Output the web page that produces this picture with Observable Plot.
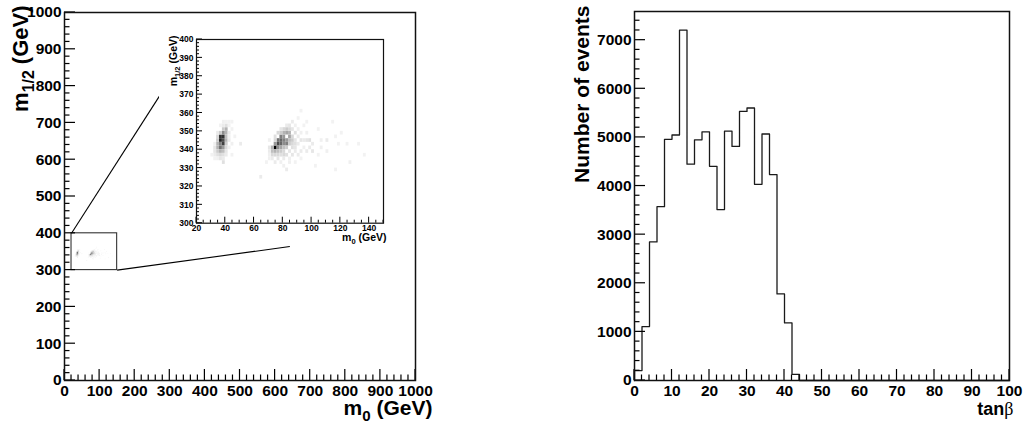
<!DOCTYPE html>
<html><head><meta charset="utf-8">
<script src="https://cdn.jsdelivr.net/npm/d3@7"></script>
<script src="https://cdn.jsdelivr.net/npm/@observablehq/plot@0.6"></script>
<style>
body{margin:0;background:#fff;}
#wrap{position:relative;width:1027px;height:428px;overflow:hidden;background:#fff;}
#wrap > div{position:absolute;}
</style></head><body>
<div id="wrap">
<div id="left" style="left:0;top:0"></div>
<div id="right" style="left:513px;top:0"></div>
<div id="inset" style="left:159px;top:30px"></div>
</div>
<script>
// ---------- data ----------
const m0Domain = [0, 1000];
const m12Domain = [0, 1000];
const m0Ticks = [0,100,200,300,400,500,600,700,800,900,1000];
const m0TickLabels = ["0","100","200","300","400","500","600","700","800","900","1000"];
const m12Ticks = [0,100,200,300,400,500,600,700,800,900,1000];
const m12TickLabels = ["0","100","200","300","400","500","600","700","800","900","1000"];

const insetM0Domain = [20, 150];
const insetM12Domain = [300, 400];
const insetM0Ticks = [20,40,60,80,100,120,140];
const insetM0TickLabels = ["20","40","60","80","100","120","140"];
const insetM12Ticks = [300,310,320,330,340,350,360,370,380,390,400];
const insetM12TickLabels = ["300","310","320","330","340","350","360","370","380","390","400"];

// zoom connector lines (main-plot coordinates)
const zoomLinkStart = [[20, 400], [150, 300]];
const zoomLinkEnd = [[270, 772], [642, 364]];

// 2D density cells: [m0 low edge, m1/2 low edge, relative density]
const cellSize = [2, 2];
const densityCells = [
 [36,346,0.8],[38,346,0.8],[36,344,0.85],[38,344,0.7],[38,342,0.75],[36,342,0.5],[36,340,0.55],[38,340,0.4],
 [38,348,0.45],[40,348,0.3],[40,350,0.3],[38,350,0.2],[34,342,0.3],[34,340,0.3],[34,338,0.2],[36,338,0.3],
 [38,338,0.25],[40,344,0.3],[40,346,0.25],[40,342,0.2],[40,340,0.15],[34,344,0.2],[34,346,0.15],[32,340,0.1],
 [32,338,0.1],[32,336,0.08],[34,336,0.12],[36,336,0.15],[38,336,0.12],[40,336,0.08],[36,334,0.1],[38,334,0.08],
 [34,334,0.06],[38,332,0.12],[40,338,0.1],[42,340,0.06],[42,344,0.08],[42,348,0.08],[42,352,0.05],[40,352,0.12],
 [38,352,0.08],[36,352,0.05],[38,354,0.06],[40,354,0.05],[44,350,0.05],[36,348,0.2],[34,348,0.08],[30,336,0.05],
 [44,342,0.06],[46,346,0.05],[50,342,0.08],[44,336,0.05],[32,342,0.06],[42,354,0.05],[44,354,0.05],[42,346,0.06],[32,334,0.05],
 [74,340,1.0],[76,342,0.7],[78,342,0.6],[76,344,0.55],[78,344,0.6],[78,346,0.5],[80,346,0.4],[80,344,0.5],
 [82,342,0.5],[80,342,0.45],[76,340,0.45],[78,340,0.35],[82,344,0.4],[84,346,0.35],[82,348,0.35],[80,348,0.3],
 [84,348,0.3],[72,340,0.3],[72,338,0.25],[74,338,0.3],[76,338,0.25],[74,342,0.4],[72,336,0.15],[74,336,0.15],
 [76,336,0.15],[78,338,0.2],[80,340,0.25],[84,344,0.25],[86,344,0.2],[82,350,0.2],[84,350,0.15],[86,350,0.1],
 [88,348,0.12],[86,346,0.15],[88,344,0.1],[84,342,0.2],[82,340,0.2],[86,340,0.12],[88,340,0.1],[90,342,0.08],
 [92,344,0.1],[94,344,0.08],[96,344,0.1],[98,340,0.08],[100,342,0.08],[98,344,0.12],[100,338,0.1],[96,338,0.08],
 [92,338,0.08],[90,336,0.08],[86,336,0.1],[82,336,0.12],[80,336,0.15],[78,336,0.12],[76,334,0.1],[72,334,0.08],
 [70,334,0.06],[68,332,0.05],[74,332,0.08],[78,332,0.06],[80,330,0.06],[84,332,0.06],[88,332,0.05],[82,328,0.08],
 [86,354,0.08],[84,352,0.1],[88,352,0.06],[90,356,0.05],[92,360,0.05],[96,354,0.05],[104,350,0.05],[106,340,0.06],
 [110,338,0.06],[114,354,0.05],[116,346,0.05],[118,342,0.05],[120,348,0.05],[124,342,0.05],[132,342,0.05],[136,336,0.05],
 [126,332,0.06],[116,328,0.05],[102,330,0.05],[64,324,0.08],[70,340,0.1],[70,344,0.06],[74,346,0.12],[76,348,0.15],
 [78,348,0.2],[80,350,0.15],[78,350,0.1],[82,352,0.08],[90,346,0.08],[92,348,0.06],[94,340,0.06],[104,336,0.05],
 [106,344,0.06],[110,344,0.08],[96,348,0.06],[86,342,0.15],[88,342,0.12],[80,338,0.15],[84,338,0.1],[88,338,0.08],
 [70,338,0.08],[70,336,0.06],[74,344,0.15],[90,350,0.06],[94,352,0.05],[80,334,0.08],[84,334,0.06],[92,334,0.05]
];

// tan(beta) histogram (bin width 2)
const tanbDomain = [0, 100];
const tanbBinLow = [0,2,4,6,8,10,12,14,16,18,20,22,24,26,28,30,32,34,36,38,40,42];
const tanbBinWidth = 2;
const tanbCounts = [205,1110,2850,3575,4960,5050,7205,4450,4950,5115,4405,3515,5130,4815,5535,5605,4035,5070,4235,1780,1185,125];
const eventsDomain = [0, 7590];
const tanbTicks = [0,10,20,30,40,50,60,70,80,90,100];
const tanbTickLabels = ["0","10","20","30","40","50","60","70","80","90","100"];
const eventsTicks = [0,1000,2000,3000,4000,5000,6000,7000];
const eventsTickLabels = ["0","1000","2000","3000","4000","5000","6000","7000"];

// ---------- helpers ----------
const FONT = '"Liberation Sans", Arial, Helvetica, sans-serif';
const fmt = (ticks, labels) => { const m = new Map(ticks.map((t, i) => [t, labels[i]])); return d => m.get(d) ?? ""; };
const minorOf = (ticks, n, domMax) => {
  const out = [];
  const step = (ticks[1] - ticks[0]) / n;
  for (let v = ticks[0] + step; v <= domMax + 1e-9; v += step) {
    if (!ticks.some(t => Math.abs(t - v) < 1e-6)) out.push(+v.toFixed(6));
  }
  return out;
};
const colorScale = {type: "linear", domain: [0, 1], range: ["#ffffff", "#000000"]};
const cells = densityCells.map(([m0, m12, v]) => ({m0, m12, v}));

// tick labels + inward ROOT-style ticks (thin filled rects, sized in pixels via the scale span)
function axesFor(g, xT, xL, yT, yL, xMinorN, yMinorN, opt) {
  const fw = g.width - g.marginLeft - g.marginRight;
  const fh = g.height - g.marginTop - g.marginBottom;
  const [x0, x1] = g.x, [y0, y1] = g.y;
  const dY = px => px * (y1 - y0) / fh;
  const dX = px => px * (x1 - x0) / fw;
  const hw = opt.sw / 2;
  const rows = [
    ...xT.map(v => ({a: v - dX(hw), b: v + dX(hw), c: y0, d: y0 + dY(opt.major)})),
    ...minorOf(xT, xMinorN, x1).map(v => ({a: v - dX(hw), b: v + dX(hw), c: y0, d: y0 + dY(opt.minor)})),
    ...yT.map(v => ({a: x0, b: x0 + dX(opt.major), c: v - dY(hw), d: v + dY(hw)})),
    ...minorOf(yT, yMinorN, y1).map(v => ({a: x0, b: x0 + dX(opt.minor), c: v - dY(hw), d: v + dY(hw)}))
  ];
  return [
    Plot.axisX({ticks: xT, tickSize: 0, tickPadding: opt.xPad, tickFormat: fmt(xT, xL), fontSize: opt.fs, fontWeight: "bold", fill: "black", label: null}),
    Plot.axisY({ticks: yT, tickSize: 0, tickPadding: opt.yPad, tickFormat: fmt(yT, yL), fontSize: opt.fs, fontWeight: "bold", fill: "black", label: null}),
    Plot.rect(rows, {x1: "a", x2: "b", y1: "c", y2: "d", fill: "black"})
  ];
}

function rich(svg, raw, parts, subShift) {
  svg.querySelectorAll("text").forEach(t => {
    if (t.textContent !== raw) return;
    while (t.firstChild) t.removeChild(t.firstChild);
    let shifted = 0;
    parts.forEach(p => {
      const ts = document.createElementNS("http://www.w3.org/2000/svg", "tspan");
      ts.textContent = p.t;
      let dy = 0;
      if (p.sub && !shifted) { dy = subShift; shifted = 1; }
      else if (!p.sub && shifted) { dy = -subShift; shifted = 0; }
      if (dy) ts.setAttribute("dy", dy);
      if (p.sub) ts.setAttribute("font-size", "72%");
      if (p.weight) ts.setAttribute("font-weight", p.weight);
      if (p.family) ts.setAttribute("font-family", p.family);
      t.appendChild(ts);
    });
  });
}
const svgStyle = {fontFamily: FONT, fontWeight: "bold", background: "white", color: "black"};
const dims = g => ({width: g.width, height: g.height, marginLeft: g.marginLeft, marginRight: g.marginRight, marginTop: g.marginTop, marginBottom: g.marginBottom});

// ---------- left: m1/2 vs m0 ----------
const insetBox = [{x1: insetM0Domain[0], x2: insetM0Domain[1], y1: insetM12Domain[0], y2: insetM12Domain[1]}];
const links = zoomLinkStart.map((s, i) => ({x1: s[0], y1: s[1], x2: zoomLinkEnd[i][0], y2: zoomLinkEnd[i][1]}));

const gL = {width: 513, height: 428, marginLeft: 64, marginRight: 98, marginTop: 12, marginBottom: 48, x: m0Domain, y: m12Domain};
const left = Plot.plot({
  ...dims(gL),
  x: {domain: m0Domain}, y: {domain: m12Domain},
  color: colorScale,
  style: svgStyle,
  marks: [
    Plot.rect(cells, {x1: "m0", x2: d => d.m0 + cellSize[0], y1: "m12", y2: d => d.m12 + cellSize[1], fill: "v"}),
    Plot.rect(insetBox, {x1: "x1", x2: "x2", y1: "y1", y2: "y2", fill: "none", stroke: "#333", strokeWidth: 1.1}),
    Plot.link(links, {x1: "x1", y1: "y1", x2: "x2", y2: "y2", stroke: "black", strokeWidth: 1.1}),
    ...axesFor(gL, m0Ticks, m0TickLabels, m12Ticks, m12TickLabels, 5, 5, {fs: 15.5, xPad: 4, yPad: 3, major: 11, minor: 5.5, sw: 1.2}),
    Plot.frame({stroke: "#111", strokeWidth: 1.5}),
    Plot.text(["m0 (GeV)"], {text: d => d, frameAnchor: "bottom-right", dx: 17, dy: 34, textAnchor: "end", lineAnchor: "bottom", fontSize: 21, fontWeight: "bold", fill: "black"}),
    Plot.text(["m1/2 (GeV)"], {text: d => d, frameAnchor: "top-left", dx: -37, dy: -7, rotate: -90, textAnchor: "end", lineAnchor: "bottom", fontSize: 22, fontWeight: "bold", fill: "black"})
  ]
});
rich(left, "m0 (GeV)", [{t: "m"}, {t: "0", sub: true}, {t: " (GeV)"}], 6);
rich(left, "m1/2 (GeV)", [{t: "m"}, {t: "1/2", sub: true}, {t: " (GeV)"}], 6);
document.getElementById("left").appendChild(left);

// ---------- inset ----------
const gI = {width: 241, height: 216, marginLeft: 37, marginRight: 17, marginTop: 9, marginBottom: 23.3, x: insetM0Domain, y: insetM12Domain};
const inset = Plot.plot({
  ...dims(gI),
  x: {domain: insetM0Domain}, y: {domain: insetM12Domain},
  color: colorScale,
  style: svgStyle,
  marks: [
    Plot.rect(cells, {x1: "m0", x2: d => d.m0 + cellSize[0], y1: "m12", y2: d => d.m12 + cellSize[1], fill: "v", clip: true}),
    ...axesFor(gI, insetM0Ticks, insetM0TickLabels, insetM12Ticks, insetM12TickLabels, 4, 5, {fs: 8.5, xPad: 2, yPad: 3, major: 6, minor: 3, sw: 1}),
    Plot.frame({stroke: "#111", strokeWidth: 1.2}),
    Plot.text(["m0 (GeV)"], {text: d => d, frameAnchor: "bottom-right", dx: 3, dy: 18, textAnchor: "end", lineAnchor: "bottom", fontSize: 10.5, fontWeight: "bold", fill: "black"}),
    Plot.text(["m1/2 (GeV)"], {text: d => d, frameAnchor: "top-left", dx: -20, dy: -4, rotate: -90, textAnchor: "end", lineAnchor: "bottom", fontSize: 10.5, fontWeight: "bold", fill: "black"})
  ]
});
rich(inset, "m0 (GeV)", [{t: "m"}, {t: "0", sub: true}, {t: " (GeV)"}], 3);
rich(inset, "m1/2 (GeV)", [{t: "m"}, {t: "1/2", sub: true}, {t: " (GeV)"}], 3);
document.getElementById("inset").appendChild(inset);

// ---------- right: tan beta histogram ----------
const steps = [{x: tanbBinLow[0], y: 0}];
tanbBinLow.forEach((x, i) => steps.push({x, y: tanbCounts[i]}));
steps.push({x: tanbBinLow[tanbBinLow.length - 1] + tanbBinWidth, y: 0});
steps.push({x: tanbDomain[1], y: 0});

const gR = {width: 514, height: 428, marginLeft: 121, marginRight: 18, marginTop: 11, marginBottom: 48, x: tanbDomain, y: eventsDomain};
const right = Plot.plot({
  ...dims(gR),
  x: {domain: tanbDomain}, y: {domain: eventsDomain},
  style: svgStyle,
  marks: [
    Plot.line(steps, {x: "x", y: "y", curve: "step-after", stroke: "#1a1a1a", strokeWidth: 1.3}),
    ...axesFor(gR, tanbTicks, tanbTickLabels, eventsTicks, eventsTickLabels, 5, 5, {fs: 15.5, xPad: 4, yPad: 3, major: 11, minor: 5.5, sw: 1.2}),
    Plot.frame({stroke: "#111", strokeWidth: 1.5}),
    Plot.text(["tanβ"], {text: d => d, frameAnchor: "bottom-right", dx: 4, dy: 34, textAnchor: "end", lineAnchor: "bottom", fontSize: 18, fontWeight: "bold", fill: "black"}),
    Plot.text(["Number of events"], {text: d => d, frameAnchor: "top-left", dx: -46, dy: -6, rotate: -90, textAnchor: "end", lineAnchor: "bottom", fontSize: 21, fontWeight: "bold", fill: "black"})
  ]
});
rich(right, "tanβ", [{t: "tan"}, {t: "β", weight: "normal", family: '"Liberation Serif", "DejaVu Serif", serif'}], 0);
document.getElementById("right").appendChild(right);
</script>
</body></html>
